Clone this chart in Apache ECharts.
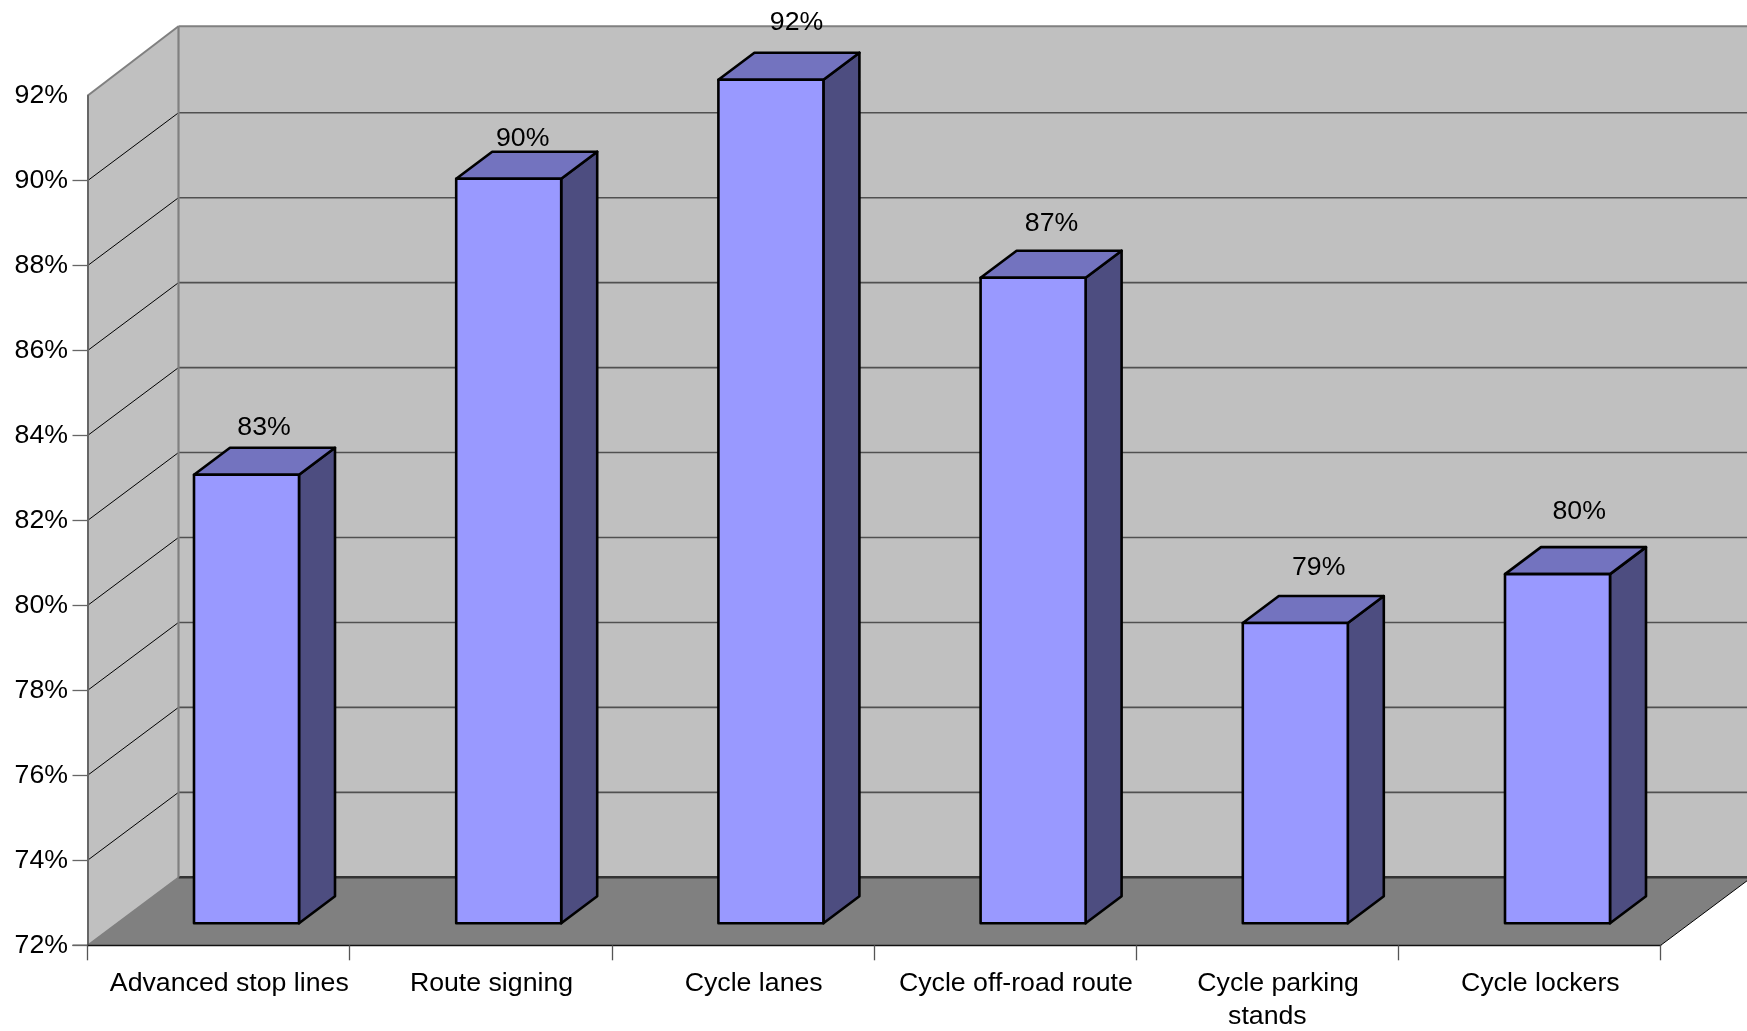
<!DOCTYPE html>
<html>
<head>
<meta charset="utf-8">
<style>html,body{margin:0;padding:0;background:#fff}#chart{width:1747px;height:1031px}</style>
<script src="https://cdn.jsdelivr.net/npm/echarts@6/dist/echarts.min.js"></script>
</head>
<body>
<div id="chart"></div>
<script>
const categories = ['Advanced stop lines', 'Route signing', 'Cycle lanes', 'Cycle off-road route', 'Cycle parking\nstands', 'Cycle lockers'];
const values = [82.56, 89.53, 91.86, 87.2, 79.07, 80.22];
const yTicks = [72, 74, 76, 78, 80, 82, 84, 86, 88, 90];
const yMin = 72, yMax = 92, yStep = 2;

// label nudges from the bar's front-top centre, as placed in the original
const labelNudgeX = [17.5, 14, 25.6, 18.4, 23.4, 21.7];
const labelNudgeY = [47, 40, 57, 54, 55, 62.5];

const FONT = '"Liberation Sans", Arial, sans-serif';
const FONT_SIZE = 26.7;
const WALL_DX = 91, WALL_DY = -68;
const BAR_DX = 36, BAR_DY = -27, BAR_W = 105, BAR_SHIFT = -24.6, BAR_LIFT = 22;

function poly(points, fill, stroke, lw) {
  return { type: 'polygon', shape: { points }, style: { fill, stroke: stroke || 'none', lineWidth: lw || 0, lineJoin: 'round' } };
}
function line(x1, y1, x2, y2, stroke, lw) {
  return { type: 'line', shape: { x1, y1, x2, y2 }, style: { stroke, lineWidth: lw } };
}

function renderWalls(params, api) {
  const L = params.coordSys.x, R = L + params.coordSys.width;
  const y0 = api.coord([0, yMin])[1], y1 = api.coord([0, yMax])[1];
  const bx = L + WALL_DX;
  const kids = [
    poly([[L, y0], [bx, y0 + WALL_DY], [bx, y1 + WALL_DY - 1.5], [L, y1]], '#c0c0c0'),
    poly([[bx, y0 + WALL_DY], [bx, y1 + WALL_DY - 1.5], [R + WALL_DX + 10, y1 + WALL_DY - 1.5], [R + WALL_DX + 10, y0 + WALL_DY]], '#c0c0c0'),
    poly([[L, y0], [bx, y0 + WALL_DY], [R + WALL_DX, y0 + WALL_DY], [R, y0]], '#808080')
  ];
  yTicks.forEach(v => {
    if (v === yMin) return;
    const y = api.coord([0, v])[1];
    kids.push(line(L, y, bx, y + WALL_DY, '#000', 1));
    kids.push(line(bx, y + WALL_DY, R + WALL_DX + 10, y + WALL_DY, '#505050', 1.6));
  });
  kids.push(line(bx, y0 + WALL_DY, R + WALL_DX + 10, y0 + WALL_DY, '#333', 2.4));
  kids.push(line(bx, y0 + WALL_DY, bx, y1 + WALL_DY - 1.5, '#808080', 2.2));
  kids.push(line(bx, y1 + WALL_DY - 1.5, R + WALL_DX + 10, y1 + WALL_DY - 1.5, '#808080', 2));
  kids.push(line(L, y1, bx, y1 + WALL_DY - 1.5, '#808080', 2));
  kids.push(line(L, y0, bx, y0 + WALL_DY, '#808080', 1.5));
  kids.push(line(R, y0, R + WALL_DX, y0 + WALL_DY, '#000', 1));
  kids.push(line(L - 15, y0, L, y0, '#222', 1.3));
  return { type: 'group', children: kids };
}

function renderBar(params, api) {
  const i = api.value(0), v = api.value(1);
  const c = api.coord([i, v]);
  const base = api.coord([i, yMin])[1] - BAR_LIFT;
  const x = c[0] + BAR_SHIFT, top = c[1] - BAR_LIFT, r = x + BAR_W;
  const sk = '#000', lw = 2.6;
  return {
    type: 'group',
    children: [
      poly([[r, top], [r + BAR_DX, top + BAR_DY], [r + BAR_DX, base + BAR_DY], [r, base]], '#4d4d80', sk, lw),
      poly([[x, top], [x + BAR_DX, top + BAR_DY], [r + BAR_DX, top + BAR_DY], [r, top]], '#7373bf', sk, lw),
      poly([[x, top], [r, top], [r, base], [x, base]], '#9999ff', sk, lw),
      {
        type: 'text',
        style: {
          text: Math.round(v) + '%',
          x: x + BAR_W / 2 + labelNudgeX[i],
          y: top - labelNudgeY[i],
          fill: '#000',
          font: FONT_SIZE + 'px ' + FONT,
          align: 'center',
          verticalAlign: 'middle'
        }
      }
    ]
  };
}

const chart = echarts.init(document.getElementById('chart'), null, { renderer: 'canvas' });
chart.setOption({
  animation: false,
  backgroundColor: '#ffffff',
  grid: { left: 87.5, top: 95.8, width: 1573.2, height: 849.5, containLabel: false, outerBoundsMode: 'none' },
  xAxis: {
    type: 'category',
    data: categories,
    z: 3,
    axisLine: { show: true, lineStyle: { color: '#111', width: 1.3 } },
    axisTick: { show: true, alignWithLabel: false, length: 15, lineStyle: { color: '#555', width: 1.3 } },
    axisLabel: {
      interval: 0,
      margin: 22,
      color: '#000',
      fontFamily: FONT,
      fontSize: FONT_SIZE,
      lineHeight: 33,
      formatter: function (s) {
        const p = s.split('\n');
        return '{a|' + p[0] + '}' + (p[1] ? '\n{b|' + p[1] + '}' : '');
      },
      rich: {
        a: { fontFamily: FONT, fontSize: FONT_SIZE, lineHeight: 33, color: '#000', padding: [0, 0, 0, 21.4] },
        b: { fontFamily: FONT, fontSize: FONT_SIZE, lineHeight: 33, color: '#000' }
      }
    }
  },
  yAxis: {
    type: 'value',
    min: yMin,
    max: yMax,
    interval: yStep,
    z: 3,
    axisLine: { show: true, lineStyle: { color: '#666', width: 2 } },
    axisTick: { show: true, length: 15, customValues: yTicks, lineStyle: { color: '#666', width: 1.3 } },
    axisLabel: { margin: 19.5, padding: [4, 0, 0, 0], color: '#000', fontFamily: FONT, fontSize: FONT_SIZE, formatter: '{value}%' },
    splitLine: { show: false }
  },
  series: [
    { type: 'custom', name: 'walls', z: 1, silent: true, renderItem: renderWalls, data: [[0, yMin]], encode: { x: 0, y: 1 } },
    { type: 'custom', name: 'share', z: 4, renderItem: renderBar, data: values.map((v, i) => [i, v]), encode: { x: 0, y: 1 } }
  ]
});
</script>
</body>
</html>
